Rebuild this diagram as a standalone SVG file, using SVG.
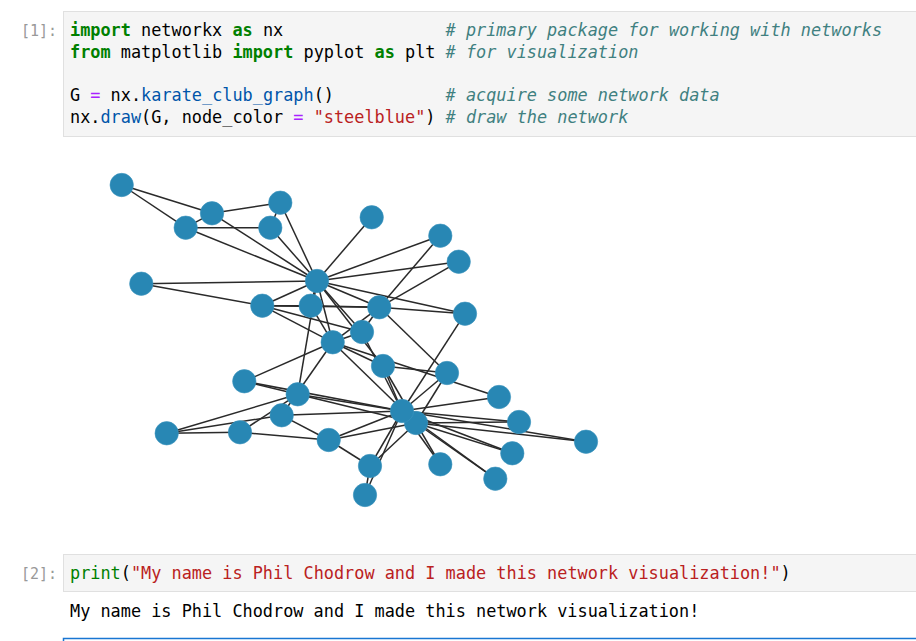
<svg xmlns="http://www.w3.org/2000/svg" width="916" height="641" viewBox="0 0 916 641">
<style>
  .code { font-family: "DejaVu Sans Mono", "Liberation Mono", monospace; font-size: 16.86px; fill: #000; }
  .prompt { font-family: "DejaVu Sans Mono", "Liberation Mono", monospace; font-size: 15px; fill: #999; }
  .kw { fill: #008000; font-weight: bold; }
  .bi { fill: #008000; }
  .cm { fill: #408080; font-style: italic; }
  .op { fill: #AA22FF; }
  .pr { fill: #0055AA; }
  .st { fill: #BA2121; }
  .edges line { stroke: #2a2a2a; stroke-width: 1.5; }
  .node circle { fill: #2887b4; stroke: #3a93bd; stroke-width: 0.6; }
</style>
<rect width="916" height="641" fill="#fff"/>

<g id="cell1">
  <rect x="63.5" y="11.5" width="900" height="125" fill="#f5f5f5" stroke="#e0e0e0"/>
  <text class="prompt" x="57" y="36" text-anchor="end">[1]:</text>
  <text class="code" x="70" y="36" xml:space="preserve"><tspan class="kw">import</tspan> networkx <tspan class="kw">as</tspan> nx                <tspan class="cm"># primary package for working with networks</tspan></text>
  <text class="code" x="70" y="57.7" xml:space="preserve"><tspan class="kw">from</tspan> matplotlib <tspan class="kw">import</tspan> pyplot <tspan class="kw">as</tspan> plt <tspan class="cm"># for visualization</tspan></text>
  <text class="code" x="70" y="101.1" xml:space="preserve">G <tspan class="op">=</tspan> nx.<tspan class="pr">karate_club_graph</tspan>()           <tspan class="cm"># acquire some network data</tspan></text>
  <text class="code" x="70" y="122.8" xml:space="preserve">nx.<tspan class="pr">draw</tspan>(G, node_color <tspan class="op">=</tspan> <tspan class="st">"steelblue"</tspan>) <tspan class="cm"># draw the network</tspan></text>
</g>

<g id="edges" class="edges">
  <line x1="317" y1="281" x2="379.3" y2="307.3"/>
  <line x1="317" y1="281" x2="332.7" y2="342.3"/>
  <line x1="317" y1="281" x2="262.3" y2="305.7"/>
  <line x1="317" y1="281" x2="270.3" y2="227.7"/>
  <line x1="317" y1="281" x2="212" y2="213.3"/>
  <line x1="317" y1="281" x2="185.7" y2="227.7"/>
  <line x1="317" y1="281" x2="310.7" y2="305.7"/>
  <line x1="317" y1="281" x2="383" y2="366"/>
  <line x1="317" y1="281" x2="280.3" y2="202.7"/>
  <line x1="317" y1="281" x2="371.7" y2="217.3"/>
  <line x1="317" y1="281" x2="141.3" y2="283.7"/>
  <line x1="317" y1="281" x2="362" y2="332"/>
  <line x1="317" y1="281" x2="440.3" y2="235.7"/>
  <line x1="317" y1="281" x2="465" y2="313.7"/>
  <line x1="317" y1="281" x2="458.7" y2="261.7"/>
  <line x1="317" y1="281" x2="297.7" y2="394.3"/>
  <line x1="379.3" y1="307.3" x2="332.7" y2="342.3"/>
  <line x1="379.3" y1="307.3" x2="262.3" y2="305.7"/>
  <line x1="379.3" y1="307.3" x2="310.7" y2="305.7"/>
  <line x1="379.3" y1="307.3" x2="362" y2="332"/>
  <line x1="379.3" y1="307.3" x2="440.3" y2="235.7"/>
  <line x1="379.3" y1="307.3" x2="465" y2="313.7"/>
  <line x1="379.3" y1="307.3" x2="458.7" y2="261.7"/>
  <line x1="379.3" y1="307.3" x2="447" y2="373"/>
  <line x1="332.7" y1="342.3" x2="262.3" y2="305.7"/>
  <line x1="332.7" y1="342.3" x2="310.7" y2="305.7"/>
  <line x1="332.7" y1="342.3" x2="383" y2="366"/>
  <line x1="332.7" y1="342.3" x2="499" y2="397"/>
  <line x1="332.7" y1="342.3" x2="362" y2="332"/>
  <line x1="332.7" y1="342.3" x2="281.7" y2="415.3"/>
  <line x1="332.7" y1="342.3" x2="244.3" y2="381.3"/>
  <line x1="332.7" y1="342.3" x2="416" y2="423"/>
  <line x1="262.3" y1="305.7" x2="310.7" y2="305.7"/>
  <line x1="262.3" y1="305.7" x2="141.3" y2="283.7"/>
  <line x1="262.3" y1="305.7" x2="362" y2="332"/>
  <line x1="270.3" y1="227.7" x2="185.7" y2="227.7"/>
  <line x1="270.3" y1="227.7" x2="280.3" y2="202.7"/>
  <line x1="212" y1="213.3" x2="185.7" y2="227.7"/>
  <line x1="212" y1="213.3" x2="280.3" y2="202.7"/>
  <line x1="212" y1="213.3" x2="121.7" y2="185"/>
  <line x1="185.7" y1="227.7" x2="121.7" y2="185"/>
  <line x1="383" y1="366" x2="447" y2="373"/>
  <line x1="383" y1="366" x2="416" y2="423"/>
  <line x1="383" y1="366" x2="402" y2="411"/>
  <line x1="499" y1="397" x2="402" y2="411"/>
  <line x1="362" y1="332" x2="402" y2="411"/>
  <line x1="465" y1="313.7" x2="402" y2="411"/>
  <line x1="519" y1="422" x2="416" y2="423"/>
  <line x1="519" y1="422" x2="402" y2="411"/>
  <line x1="586" y1="441.7" x2="416" y2="423"/>
  <line x1="586" y1="441.7" x2="402" y2="411"/>
  <line x1="512.3" y1="453.3" x2="416" y2="423"/>
  <line x1="512.3" y1="453.3" x2="402" y2="411"/>
  <line x1="440.3" y1="464.3" x2="416" y2="423"/>
  <line x1="440.3" y1="464.3" x2="402" y2="411"/>
  <line x1="495.3" y1="478.7" x2="416" y2="423"/>
  <line x1="495.3" y1="478.7" x2="402" y2="411"/>
  <line x1="328.7" y1="440" x2="240" y2="432.3"/>
  <line x1="328.7" y1="440" x2="281.7" y2="415.3"/>
  <line x1="328.7" y1="440" x2="370" y2="466"/>
  <line x1="328.7" y1="440" x2="416" y2="423"/>
  <line x1="328.7" y1="440" x2="402" y2="411"/>
  <line x1="166.7" y1="433.3" x2="240" y2="432.3"/>
  <line x1="166.7" y1="433.3" x2="281.7" y2="415.3"/>
  <line x1="166.7" y1="433.3" x2="297.7" y2="394.3"/>
  <line x1="240" y1="432.3" x2="297.7" y2="394.3"/>
  <line x1="365" y1="495" x2="370" y2="466"/>
  <line x1="365" y1="495" x2="402" y2="411"/>
  <line x1="281.7" y1="415.3" x2="402" y2="411"/>
  <line x1="244.3" y1="381.3" x2="297.7" y2="394.3"/>
  <line x1="244.3" y1="381.3" x2="402" y2="411"/>
  <line x1="370" y1="466" x2="416" y2="423"/>
  <line x1="370" y1="466" x2="402" y2="411"/>
  <line x1="447" y1="373" x2="416" y2="423"/>
  <line x1="447" y1="373" x2="402" y2="411"/>
  <line x1="297.7" y1="394.3" x2="416" y2="423"/>
  <line x1="297.7" y1="394.3" x2="402" y2="411"/>
  <line x1="416" y1="423" x2="402" y2="411"/>
</g>

<g id="n0" class="node"><circle cx="317" cy="281" r="11.7"/></g>
<g id="n1" class="node"><circle cx="379.3" cy="307.3" r="11.7"/></g>
<g id="n2" class="node"><circle cx="332.7" cy="342.3" r="11.7"/></g>
<g id="n3" class="node"><circle cx="262.3" cy="305.7" r="11.7"/></g>
<g id="n4" class="node"><circle cx="270.3" cy="227.7" r="11.7"/></g>
<g id="n5" class="node"><circle cx="212" cy="213.3" r="11.7"/></g>
<g id="n6" class="node"><circle cx="185.7" cy="227.7" r="11.7"/></g>
<g id="n7" class="node"><circle cx="310.7" cy="305.7" r="11.7"/></g>
<g id="n8" class="node"><circle cx="383" cy="366" r="11.7"/></g>
<g id="n9" class="node"><circle cx="499" cy="397" r="11.7"/></g>
<g id="n10" class="node"><circle cx="280.3" cy="202.7" r="11.7"/></g>
<g id="n11" class="node"><circle cx="371.7" cy="217.3" r="11.7"/></g>
<g id="n12" class="node"><circle cx="141.3" cy="283.7" r="11.7"/></g>
<g id="n13" class="node"><circle cx="362" cy="332" r="11.7"/></g>
<g id="n14" class="node"><circle cx="519" cy="422" r="11.7"/></g>
<g id="n15" class="node"><circle cx="586" cy="441.7" r="11.7"/></g>
<g id="n16" class="node"><circle cx="121.7" cy="185" r="11.7"/></g>
<g id="n17" class="node"><circle cx="440.3" cy="235.7" r="11.7"/></g>
<g id="n18" class="node"><circle cx="512.3" cy="453.3" r="11.7"/></g>
<g id="n19" class="node"><circle cx="465" cy="313.7" r="11.7"/></g>
<g id="n20" class="node"><circle cx="440.3" cy="464.3" r="11.7"/></g>
<g id="n21" class="node"><circle cx="458.7" cy="261.7" r="11.7"/></g>
<g id="n22" class="node"><circle cx="495.3" cy="478.7" r="11.7"/></g>
<g id="n23" class="node"><circle cx="328.7" cy="440" r="11.7"/></g>
<g id="n24" class="node"><circle cx="166.7" cy="433.3" r="11.7"/></g>
<g id="n25" class="node"><circle cx="240" cy="432.3" r="11.7"/></g>
<g id="n26" class="node"><circle cx="365" cy="495" r="11.7"/></g>
<g id="n27" class="node"><circle cx="281.7" cy="415.3" r="11.7"/></g>
<g id="n28" class="node"><circle cx="244.3" cy="381.3" r="11.7"/></g>
<g id="n29" class="node"><circle cx="370" cy="466" r="11.7"/></g>
<g id="n30" class="node"><circle cx="447" cy="373" r="11.7"/></g>
<g id="n31" class="node"><circle cx="297.7" cy="394.3" r="11.7"/></g>
<g id="n32" class="node"><circle cx="416" cy="423" r="11.7"/></g>
<g id="n33" class="node"><circle cx="402" cy="411" r="11.7"/></g>

<g id="cell2">
  <rect x="63.5" y="554.5" width="900" height="37" fill="#f5f5f5" stroke="#e0e0e0"/>
  <text class="prompt" x="57" y="578.5" text-anchor="end">[2]:</text>
  <text class="code" x="70" y="578.5" xml:space="preserve"><tspan class="bi">print</tspan>(<tspan class="st">"My name is Phil Chodrow and I made this network visualization!"</tspan>)</text>
  <text class="code" x="70" y="616.5" xml:space="preserve">My name is Phil Chodrow and I made this network visualization!</text>
</g>

<g id="cell3">
  <rect x="63.5" y="638.5" width="900" height="20" fill="none" stroke="#1976d2" stroke-width="1.5"/>
</g>
</svg>
